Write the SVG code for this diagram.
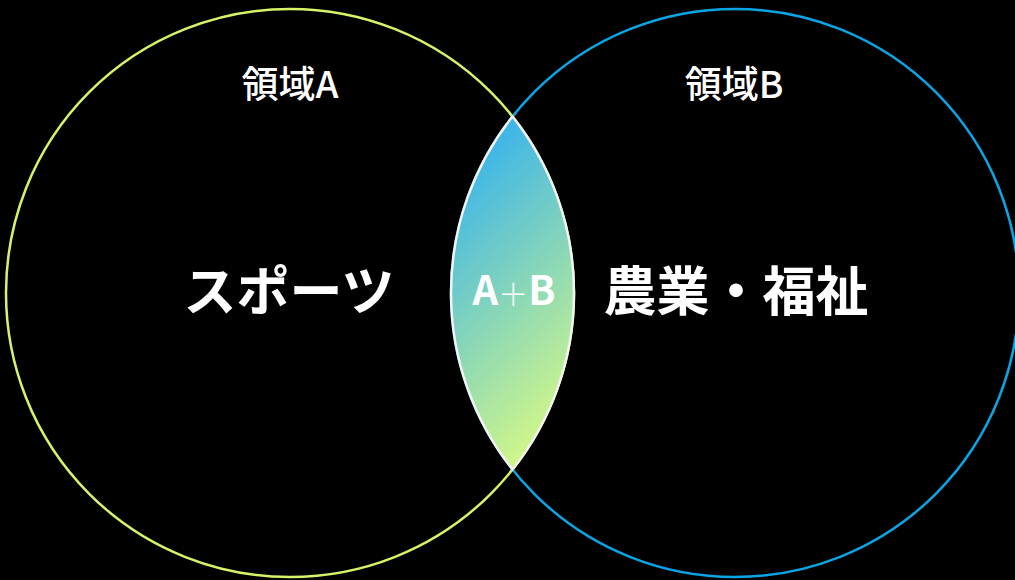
<svg xmlns="http://www.w3.org/2000/svg" width="1015" height="580" viewBox="0 0 1015 580">
  <style>
    .t { font-family: "Noto Sans CJK JP", "Noto Sans", sans-serif; fill: #ffffff; text-anchor: middle; }
    .h { font-size: 37px; font-weight: 500; }
    .b { font-size: 53px; font-weight: bold; }
    .m { font-size: 40px; font-weight: bold; }
    .plus { font-size: 30px; font-weight: 300; }
  </style>
  <defs>
    <linearGradient id="lensGrad" gradientUnits="userSpaceOnUse" x1="420" y1="200" x2="600" y2="380">
      <stop offset="0" stop-color="#38b3ec"/>
      <stop offset="1" stop-color="#d0f68a"/>
    </linearGradient>
  </defs>
  <rect width="1015" height="580" fill="#000000"/>
  <g id="circleA">
    <circle cx="290" cy="293" r="284" fill="none" stroke="#d6f46a" stroke-width="2.5"/>
  </g>
  <g id="circleB">
    <circle cx="735" cy="293" r="284" fill="none" stroke="#0aa5e5" stroke-width="2.5"/>
  </g>
  <g id="intersection">
    <path d="M 512.5 116.5 A 284 284 0 0 1 512.5 469.5 A 284 284 0 0 1 512.5 116.5 Z" fill="url(#lensGrad)" stroke="#f2f2f2" stroke-width="2.5"/>
    <text class="t m" x="514" y="305">A<tspan class="plus">＋</tspan>B</text>
  </g>
  <g id="labelA">
    <text class="t h" x="290" y="98">領域A</text>
    <text class="t b" x="289" y="311">スポーツ</text>
  </g>
  <g id="labelB">
    <text class="t h" x="734" y="98">領域B</text>
    <text class="t b" x="736" y="311">農業・福祉</text>
  </g>
  <g id="connectors"/>
</svg>
